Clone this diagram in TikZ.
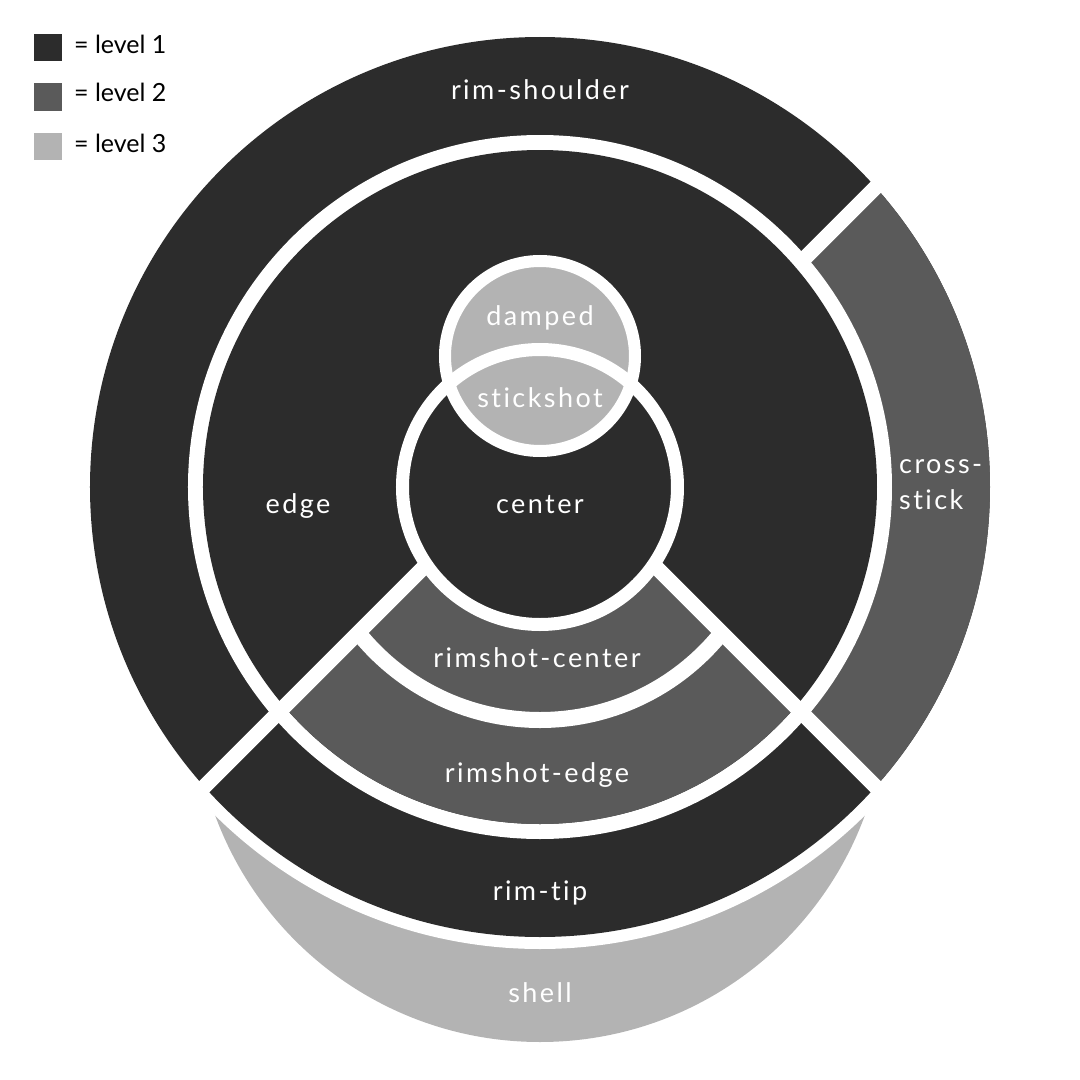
\documentclass[tikz,border=0pt]{standalone}
\usepackage{fontspec}
\setmainfont[LetterSpace=9, Ligatures=NoCommon]{Lato}
\newfontfamily\keyfont{Lato}
\usepackage{tikz}

\definecolor{lvlone}{HTML}{2C2C2C}
\definecolor{lvltwo}{HTML}{5A5A5A}
\definecolor{lvlthree}{HTML}{B3B3B3}

\begin{document}
\begin{tikzpicture}[x=1pt, y=1pt,
  every node/.style={text=white, inner sep=0, font=\fontsize{27}{32}\selectfont},
  key/.style={anchor=base west, text=black, font=\keyfont\fontsize{25}{30}\selectfont},
  gap/.style={draw=white, line width=15}]

% keep the page size
\useasboundingbox (-540,-593) rectangle (540,487);

% the shell under the rim
\fill[lvlthree] (0,-209) circle (346);
\fill[white] (0,0) circle (462);

% the rim, cross-stick on the right
\fill[lvlone] (0,0) circle (450);
\scope
\clip (36,0) -- (560,524) -- (560,-524) -- cycle;
\fill[lvltwo] (0,0) circle (450);
\endscope
\draw[gap] (36,0) -- (400,364);

% the head
\fill[white] (0,0) circle (352);
\fill[lvlone] (0,0) circle (337);

% rimshot wedge
\scope
\clip (0,36) -- (-560,-524) -- (560,-524) -- cycle;
\fill[lvltwo] (0,0) circle (337);
\draw[gap, line width=16] (0,0) circle (233);
\endscope
\draw[gap] (-340,-304) -- (0,36) -- (340,-304);

% center and damped
\fill[lvlone] (0,0) circle (137.5);
\fill[lvlthree] (0,131) circle (95);
\draw[white, line width=13] (0,0) circle (137.5);
\draw[white, line width=12] (0,131) circle (95);

% legend
\fill[lvlone] (-506,426) rectangle (-478,453);
\fill[lvltwo] (-506,376) rectangle (-478,404);
\fill[lvlthree] (-506,327) rectangle (-478,354);
\node[key] (keyone) at (-466,433) {= level 1};
\node[key] (keytwo) at (-466,385) {= level 2};
\node[key] (keythree) at (-466,335) {= level 3};

% labels
\node[anchor=base] (rimshoulder) at (0,388) {rim-shoulder};
\node[anchor=base] (damped) at (0,162) {damped};
\node[anchor=base] (stickshot) at (0,80) {stickshot};
\node[anchor=base] (centre) at (0,-26) {center};
\node[anchor=base] (edge) at (-242,-26) {edge};
\node[anchor=base west] (cross) at (359,14) {cross-};
\node[anchor=base west] (stick) at (359,-22) {stick};
\node[anchor=base] (rimcenter) at (-3,-180) {rimshot-center};
\node[anchor=base] (rimedge) at (-3,-295) {rimshot-edge};
\node[anchor=base] (rimtip) at (0,-413) {rim-tip};
\node[anchor=base] (shell) at (0,-515) {shell};

\end{tikzpicture}
\end{document}
